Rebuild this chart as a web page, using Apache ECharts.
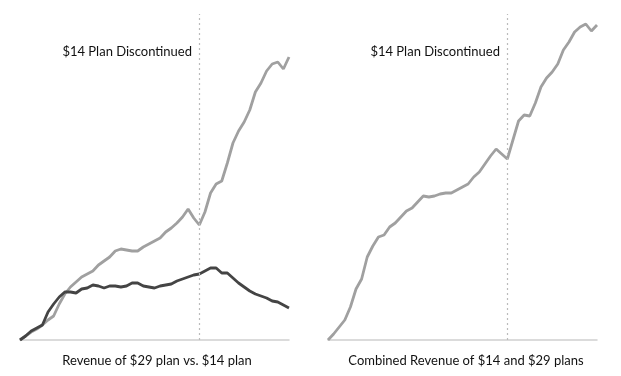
<!DOCTYPE html>
<html>
<head>
<meta charset="utf-8">
<script src="https://cdn.jsdelivr.net/npm/echarts@6/dist/echarts.min.js"></script>
<style>html,body{margin:0;padding:0;background:#fff;}#c{width:621px;height:376px;}</style>
</head>
<body>
<div id="c"></div>
<script>
// months (index), 49 points
const months = Array.from({length: 49}, (_, i) => String(i));
const plan29 = [0,4,8,11,15,20,24,36,46,53,58,63,66,69,75,79,83,89,91,90,89,89,93,96,99,102,108,112,117,123,131,122,115,128,147,156,159,177,197,209,218,230,248,257,269,276,278,271,283];
const plan14 = [0,4,9,12,15,28,36,43,48,48,47,51,52,55,54,52,54,54,53,54,57,57,54,53,52,54,55,56,59,61,63,65,66,69,72,72,67,67,62,57,53,49,46,44,42,39,38,35,32];
const combined = [0,6,13,20,33,51,61,83,94,103,105,113,117,123,129,132,138,144,143,144,146,147,147,150,153,156,163,168,176,184,191,186,181,200,219,225,224,237,253,262,268,276,290,298,308,313,316,309,315];
const discontinuedIndex = '32';
const annotation = '$14 Plan Discontinued';
const leftTitle = 'Revenue of $29 plan vs. $14 plan';
const rightTitle = 'Combined Revenue of $14 and $29 plans';

const FONT = 'Lato';
const chart = echarts.init(document.getElementById('c'), null, {renderer: 'canvas'});
const xAx = (gi) => ({
  type: 'category', gridIndex: gi, data: months, boundaryGap: false,
  axisLine: {show: true, lineStyle: {color: '#cfcfcf', width: 1.5}},
  axisTick: {show: false}, axisLabel: {show: false}, splitLine: {show: false}
});
const yAx = (gi) => ({
  type: 'value', gridIndex: gi, min: 0, max: 326,
  axisLine: {show: false}, axisTick: {show: false}, axisLabel: {show: false}, splitLine: {show: false}
});
const mark = {
  silent: true, symbol: 'none', label: {show: false},
  lineStyle: {type: [2, 3], color: '#bbbbbb', width: 1.2},
  data: [{xAxis: discontinuedIndex}]
};
chart.setOption({
  animation: false,
  grid: [
    {left: 20, top: 14, width: 269, height: 326},
    {left: 328, top: 14, width: 269, height: 326}
  ],
  xAxis: [xAx(0), xAx(1)],
  yAxis: [yAx(0), yAx(1)],
  series: [
    {type: 'line', xAxisIndex: 0, yAxisIndex: 0, data: plan29, showSymbol: false,
     lineStyle: {color: '#a0a0a0', width: 2.8}, itemStyle: {color: '#a0a0a0'}, markLine: mark, z: 2},
    {type: 'line', xAxisIndex: 0, yAxisIndex: 0, data: plan14, showSymbol: false,
     lineStyle: {color: '#444444', width: 2.8}, itemStyle: {color: '#444444'}, z: 3},
    {type: 'line', xAxisIndex: 1, yAxisIndex: 1, data: combined, showSymbol: false,
     lineStyle: {color: '#a0a0a0', width: 2.8}, itemStyle: {color: '#a0a0a0'}, markLine: mark}
  ],
  graphic: [
    {type: 'text', x: 192, y: 52, style: {text: annotation, font: '13px ' + FONT, fill: '#111', align: 'right', verticalAlign: 'middle'}},
    {type: 'text', x: 500, y: 52, style: {text: annotation, font: '13px ' + FONT, fill: '#111', align: 'right', verticalAlign: 'middle'}},
    {type: 'text', x: 157, y: 361, style: {text: leftTitle, font: '13px ' + FONT, fill: '#111', align: 'center', verticalAlign: 'middle'}},
    {type: 'text', x: 466, y: 361, style: {text: rightTitle, font: '13px ' + FONT, fill: '#111', align: 'center', verticalAlign: 'middle'}}
  ]
});
</script>
</body>
</html>
